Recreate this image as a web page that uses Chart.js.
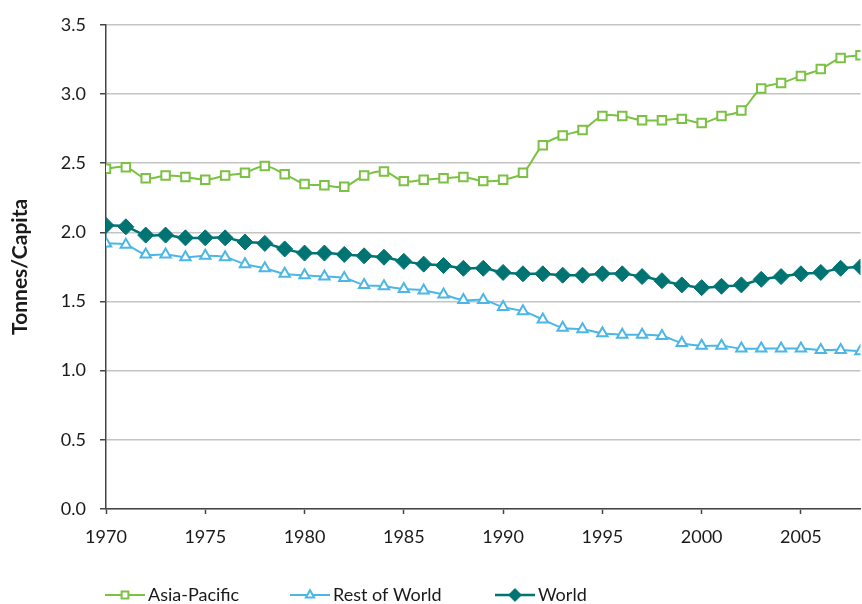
<!DOCTYPE html>
<html>
<head>
<meta charset="utf-8">
<script src="https://cdn.jsdelivr.net/npm/chart.js@4/dist/chart.umd.min.js"></script>
<style>
  html, body { margin: 0; padding: 0; background: #fff; overflow: hidden; }
  #wrap { width: 862px; height: 604px; }
</style>
</head>
<body>
<div id="wrap"><canvas id="chart"></canvas></div>
<script>
// ---------- Dati ----------
const years = [
  1970, 1971, 1972, 1973, 1974, 1975, 1976, 1977, 1978, 1979,
  1980, 1981, 1982, 1983, 1984, 1985, 1986, 1987, 1988, 1989,
  1990, 1991, 1992, 1993, 1994, 1995, 1996, 1997, 1998, 1999,
  2000, 2001, 2002, 2003, 2004, 2005, 2006, 2007, 2008
];

const asiaPacific = [
  2.46, 2.47, 2.39, 2.41, 2.40, 2.38, 2.41, 2.43, 2.48, 2.42,
  2.35, 2.34, 2.33, 2.41, 2.44, 2.37, 2.38, 2.39, 2.40, 2.37,
  2.38, 2.43, 2.63, 2.70, 2.74, 2.84, 2.84, 2.81, 2.81, 2.82,
  2.79, 2.84, 2.88, 3.04, 3.08, 3.13, 3.18, 3.26, 3.28
];

const restOfWorld = [
  1.92, 1.91, 1.84, 1.84, 1.82, 1.83, 1.82, 1.77, 1.74, 1.70,
  1.69, 1.68, 1.67, 1.62, 1.61, 1.59, 1.58, 1.55, 1.51, 1.51,
  1.46, 1.43, 1.37, 1.31, 1.30, 1.27, 1.26, 1.26, 1.25, 1.20,
  1.18, 1.18, 1.16, 1.16, 1.16, 1.16, 1.15, 1.15, 1.14
];

const world = [
  2.05, 2.04, 1.98, 1.98, 1.96, 1.96, 1.96, 1.93, 1.92, 1.88,
  1.85, 1.85, 1.84, 1.83, 1.82, 1.79, 1.77, 1.76, 1.74, 1.74,
  1.71, 1.70, 1.70, 1.69, 1.69, 1.70, 1.70, 1.68, 1.65, 1.62,
  1.60, 1.61, 1.62, 1.66, 1.68, 1.70, 1.71, 1.74, 1.75
];

const seriesLabels = ["Asia-Pacific", "Rest of World", "World"];
const yTicks = [0, 0.5, 1.0, 1.5, 2.0, 2.5, 3.0, 3.5];
const xTickStep = 5;

// ---------- Stile ----------
const GREEN = "#7bc143";
const BLUE = "#4cb7e6";
const TEAL = "#007373";
const AXIS = "#454545";
const TEXT = "#1a1a1a";
const FONT = "Lato";

const toPoints = (vals) => vals.map((v, i) => ({ x: years[i], y: v }));

// legenda disegnata a mano (linea + marker come in Excel)
const legendX = [105, 290, 495];
const legendY = 595;

const lineLegend = {
  id: "lineLegend",
  afterDraw(chart) {
    const ctx = chart.ctx;
    chart.data.datasets.forEach((ds, i) => {
      const x = legendX[i];
      ctx.save();
      ctx.strokeStyle = ds.borderColor;
      ctx.lineWidth = ds.borderWidth;
      ctx.beginPath();
      ctx.moveTo(x, legendY);
      ctx.lineTo(x + 40, legendY);
      ctx.stroke();

      ctx.fillStyle = ds.pointBackgroundColor;
      ctx.strokeStyle = ds.pointBorderColor;
      ctx.lineWidth = ds.pointBorderWidth;
      Chart.helpers.drawPoint(ctx, {
        pointStyle: ds.pointStyle,
        radius: ds.pointRadius * 0.8,
        borderWidth: ds.pointBorderWidth,
        rotation: 0,
      }, x + 20, legendY);

      ctx.fillStyle = TEXT;
      ctx.font = `18px ${FONT}`;
      ctx.textBaseline = "middle";
      ctx.textAlign = "left";
      ctx.fillText(ds.label, x + 43, legendY);
      ctx.restore();
    });
  },
};

new Chart(document.getElementById("chart"), {
  type: "line",
  data: {
    datasets: [
      {
        label: seriesLabels[0],
        data: toPoints(asiaPacific),
        borderColor: GREEN,
        borderWidth: 2,
        pointStyle: "rect",
        pointRadius: 6,
        pointBackgroundColor: "#fff",
        pointBorderColor: GREEN,
        pointBorderWidth: 2,
        tension: 0.35,
      },
      {
        label: seriesLabels[1],
        data: toPoints(restOfWorld),
        borderColor: BLUE,
        borderWidth: 2,
        pointStyle: "triangle",
        pointRadius: 6,
        pointBackgroundColor: "#fff",
        pointBorderColor: BLUE,
        pointBorderWidth: 2,
        tension: 0.35,
      },
      {
        label: seriesLabels[2],
        data: toPoints(world),
        borderColor: TEAL,
        borderWidth: 2.5,
        pointStyle: "rectRot",
        pointRadius: 8,
        pointBackgroundColor: TEAL,
        pointBorderColor: TEAL,
        pointBorderWidth: 1,
        tension: 0.35,
      },
    ],
  },
  options: {
    responsive: true,
    maintainAspectRatio: false,
    animation: false,
    layout: { autoPadding: false, padding: { top: 22, right: 1.5, left: 0, bottom: 0 } },
    plugins: {
      legend: { display: false },
      tooltip: { enabled: false },
    },
    scales: {
      x: {
        type: "linear",
        min: years[0],
        max: years[years.length - 1],
        afterBuildTicks: (s) => {
          s.ticks = years.filter((y) => y % xTickStep === 0).map((v) => ({ value: v }));
        },
        afterFit: (s) => {
          s.height = 95;
          s.paddingLeft = 0;
          s.paddingRight = 0;
        },
        ticks: {
          color: TEXT,
          font: { family: FONT, size: 18 },
          padding: 12,
          maxRotation: 0,
          callback: (v) => String(v),
        },
        grid: {
          drawOnChartArea: false,
          tickLength: 5,
          tickColor: AXIS,
          tickWidth: 1.5,
        },
        border: { color: AXIS, width: 1.5 },
      },
      y: {
        min: yTicks[0],
        max: yTicks[yTicks.length - 1],
        afterBuildTicks: (s) => {
          s.ticks = yTicks.map((v) => ({ value: v }));
        },
        afterFit: (s) => { s.width = 106; },
        ticks: {
          color: TEXT,
          font: { family: FONT, size: 18 },
          padding: 14,
          callback: (v) => Number(v).toFixed(1),
        },
        grid: {
          color: "#c4c4c4",
          lineWidth: 1.5,
          tickLength: 6,
          tickColor: AXIS,
          tickWidth: 1.5,
        },
        border: { color: AXIS, width: 1.5 },
        title: {
          display: true,
          text: "Tonnes/Capita",
          color: TEXT,
          font: { family: FONT, size: 21, weight: "bold" },
          padding: { top: 8, bottom: 4 },
        },
      },
    },
  },
  plugins: [lineLegend],
});
</script>
</body>
</html>
